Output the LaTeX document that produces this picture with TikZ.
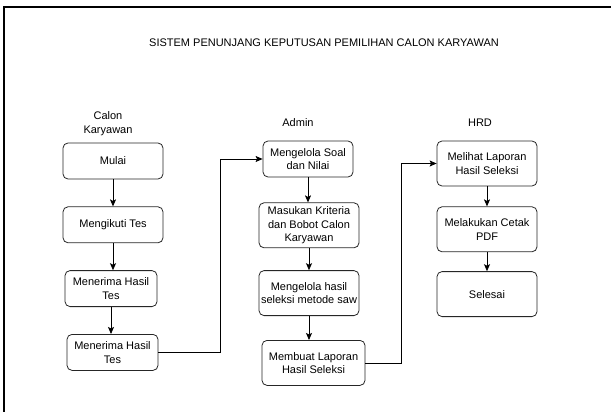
\documentclass[tikz,border=0pt]{standalone}
\usepackage{fontspec}
\setmainfont{Liberation Sans}
\usetikzlibrary{arrows.meta,positioning}

\begin{document}
\begin{tikzpicture}[
  x=1pt, y=-1pt,
  node distance=27pt and 20pt,
  box/.style={draw=black!85, rounded corners=5pt, align=center, font=\fontsize{11}{13.5}\selectfont, minimum width=100pt, minimum height=36pt, inner xsep=1pt, inner ysep=2pt, line width=0.8pt},
  tall/.style={box, minimum height=45pt},
  lbl/.style={align=center, font=\fontsize{11}{14}\selectfont},
  arr/.style={-{Stealth[length=7pt,width=6pt,inset=1.5pt]}, line width=0.8pt}]
  \useasboundingbox (0,0) rectangle (611,412);
  \clip (0,0) rectangle (611,412);
  \draw[line width=1.2pt] (4,7) rectangle (640,440);
  \node[lbl] (title) at (324,43) {SISTEM PENUNJANG KEPUTUSAN PEMILIHAN CALON KARYAWAN};
  \node[lbl] (calon) at (108,124) {Calon\\Karyawan};
  \node[lbl] (admin) at (298,123) {Admin};
  \node[lbl] (hrd) at (480,123) {HRD};
  % calon karyawan
  \node[box] (mulai) at (113,161) {Mulai};
  \node[box, below=of mulai] (ikut) {Mengikuti Tes};
  \node[box, minimum width=92pt, below=of ikut, xshift=-2pt] (terima) {Menerima Hasil\\Tes};
  \node[box, minimum width=91pt, below=of terima, xshift=1.5pt] (terimab) {Menerima Hasil\\Tes};
  % admin
  \node[box, minimum width=90pt] (soal) at (308,159) {Mengelola Soal\\dan Nilai};
  \node[tall, below=25pt of soal, xshift=1pt] (kriteria) {Masukan Kriteria\\dan Bobot Calon\\Karyawan};
  \node[tall, below=22pt of kriteria] (saw) {Mengelola hasil\\seleksi metode saw};
  \node[tall, minimum width=103pt, below=24pt of saw, xshift=4.5pt] (laporan) {Membuat Laporan\\Hasil Seleksi};
  % hrd
  \node[tall] (melihat) at (487,163.5) {Melihat Laporan\\Hasil Seleksi};
  \node[tall, below=20pt of melihat] (cetak) {Melakukan Cetak\\PDF};
  \node[tall, below=19pt of cetak] (selesai) {Selesai};
  \draw[arr] (mulai) -- (mulai |- ikut.north);
  \draw[arr] (ikut) -- (ikut |- terima.north);
  \draw[arr] (terima) -- (terima |- terimab.north);
  \draw[arr] (terimab.east) -- ++(62,0) |- (soal.west);
  \draw[arr] (soal) -- (soal |- kriteria.north);
  \draw[arr] (kriteria) -- (kriteria |- saw.north);
  \draw[arr] (saw) -- (saw |- laporan.north);
  \draw[arr] (laporan.east) -- ++(36,0) |- (melihat.west);
  \draw[arr] (melihat) -- (cetak);
  \draw[arr] (cetak) -- (selesai);
\end{tikzpicture}
\end{document}
